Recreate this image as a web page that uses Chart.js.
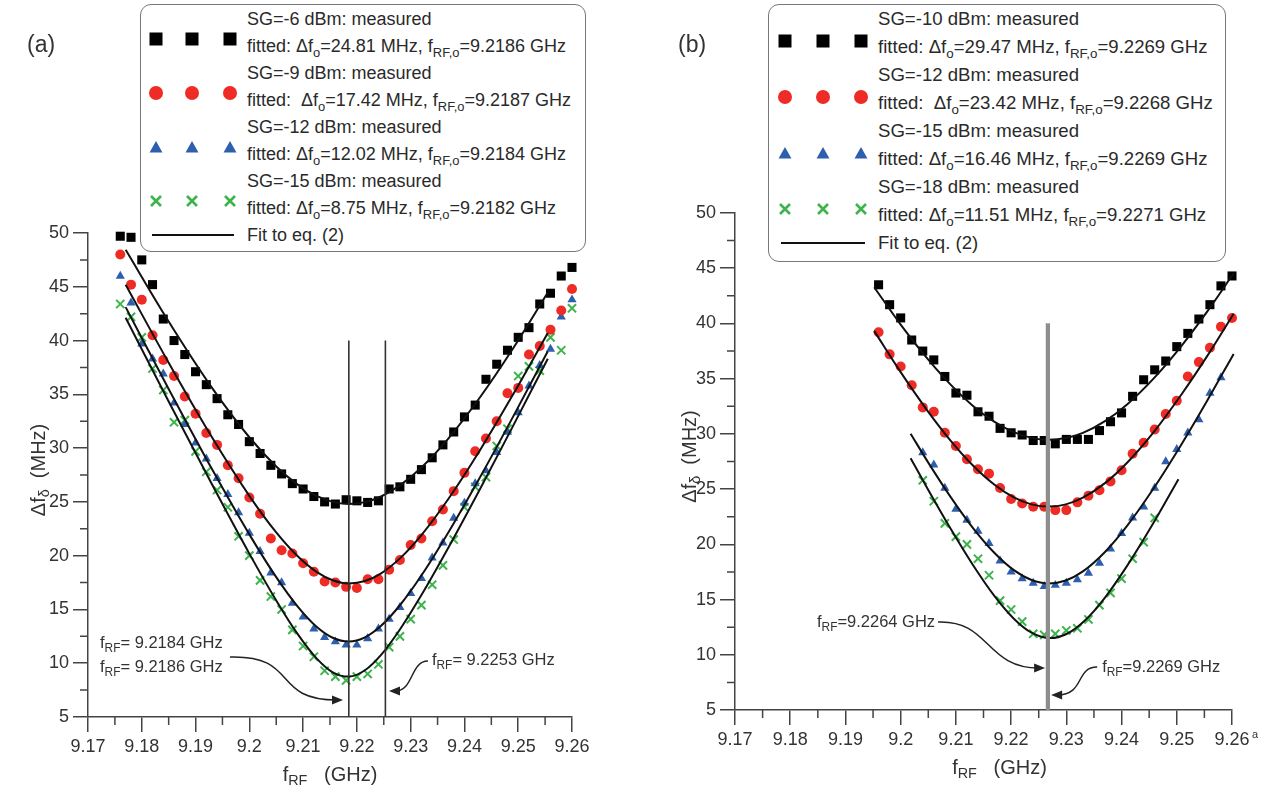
<!DOCTYPE html>
<html><head><meta charset="utf-8">
<script src="https://cdn.jsdelivr.net/npm/chart.js@4.4.1/dist/chart.umd.min.js"></script>
<style>
html,body{margin:0;padding:0;background:#fff;}
body{width:1278px;height:792px;overflow:hidden;position:relative;font-family:"Liberation Sans",Arial,Helvetica,sans-serif;}
canvas{position:absolute;top:0;}
.legend{position:absolute;border:1.5px solid #76767c;border-radius:11px;background:#fff;box-sizing:border-box;}
.lt{position:absolute;white-space:nowrap;line-height:20px;color:#2a2a2a;transform:translateY(-50%);}
#legA .lt{font-size:18px;}
#legB .lt{font-size:18.6px;}
.lt sub{font-size:72%;vertical-align:-0.35em;line-height:0;}
.mk{position:absolute;width:16px;height:16px;}
.panel{position:absolute;font-size:23px;color:#333;}
</style></head>
<body>
<canvas id="cA" width="640" height="792" style="left:0px"></canvas>
<canvas id="cB" width="638" height="792" style="left:640px"></canvas>
<div class="panel" style="left:27px;top:31px">(a)</div>
<div class="panel" style="left:678px;top:31px">(b)</div>
<div id="legA" class="legend" style="left:140px;top:4px;width:446px;height:248px"></div>
<div id="legB" class="legend" style="left:768px;top:4px;width:458px;height:258px"></div>
<script>
// ---------------- axis ticks ----------------
const xTickValues = [9.17, 9.18, 9.19, 9.2, 9.21, 9.22, 9.23, 9.24, 9.25, 9.26];
const xTickLabels = ['9.17', '9.18', '9.19', '9.2', '9.21', '9.22', '9.23', '9.24', '9.25', '9.26'];
const xMinorTicks = [9.175, 9.185, 9.195, 9.205, 9.215, 9.225, 9.235, 9.245, 9.255];
const yTickValues = [5, 10, 15, 20, 25, 30, 35, 40, 45, 50];
const yTickLabels = ['5', '10', '15', '20', '25', '30', '35', '40', '45', '50'];
const yMinorTicks = [7.5, 12.5, 17.5, 22.5, 27.5, 32.5, 37.5, 42.5, 47.5];

// ---------------- panel (a) ----------------
const freqA = [9.176, 9.178, 9.180, 9.182, 9.184, 9.186, 9.188, 9.190, 9.192, 9.194, 9.196, 9.198, 9.200, 9.202, 9.204,
  9.206, 9.208, 9.210, 9.212, 9.214, 9.216, 9.218, 9.220, 9.222, 9.224, 9.226, 9.228, 9.230, 9.232, 9.234, 9.236, 9.238,
  9.240, 9.242, 9.244, 9.246, 9.248, 9.250, 9.252, 9.254, 9.256, 9.258, 9.260];
const sgM6 = [49.7, 49.6, 47.5, 45.2, 42.0, 40.0, 38.7, 37.1, 35.9, 34.6, 33.1, 32.2, 30.6, 29.5, 28.4,
  27.6, 26.7, 26.2, 25.5, 25.0, 24.8, 25.2, 25.1, 24.95, 25.1, 26.2, 26.4, 27.1, 28.0, 29.1, 30.3, 31.5,
  32.9, 34.0, 36.4, 37.8, 39.1, 40.3, 41.2, 43.4, 44.4, 46.0, 46.8];
const sgM9 = [48.0, 45.2, 43.8, 40.5, 38.2, 36.7, 34.8, 33.2, 31.4, 30.3, 28.4, 27.2, 25.4, 23.9, 21.6,
  20.5, 20.2, 19.3, 18.5, 17.6, 17.5, 17.1, 17.0, 17.8, 17.8, 18.7, 19.6, 21.0, 21.6, 23.2, 24.3, 26.0,
  27.7, 29.7, 30.9, 32.5, 35.1, 35.6, 38.7, 39.5, 41.0, 42.8, 44.8];
const sgM12A = [46.0, 43.5, 39.7, 38.3, 36.9, 34.2, 32.2, 30.5, 29.0, 27.2, 25.7, 24.0, 22.1, 20.4, 18.4,
  17.5, 15.6, 14.3, 13.2, 12.4, 12.0, 11.7, 11.7, 12.3, 13.2, 14.1, 15.2, 16.5, 17.9, 19.8, 21.2, 23.5,
  24.9, 26.7, 27.9, 29.6, 31.5, 33.3, 35.8, 37.7, 39.2, 42.2, 43.8];
const sgM15A = [43.4, 42.2, 40.3, 37.4, 35.4, 32.4, 32.6, 29.7, 27.8, 26.1, 24.5, 21.8, 20.0, 17.7, 16.2,
  15.0, 13.1, 11.6, 10.6, 9.3, 8.75, 8.4, 8.75, 9.0, 9.9, 11.5, 12.5, 14.1, 15.4, 17.3, 19.1, 21.5,
  24.5, 26.4, 27.3, 30.2, 31.8, 36.7, 37.6, 37.2, 40.3, 39.1, 43.0];
const fitFreqA = [9.177, 9.185, 9.193, 9.200, 9.205, 9.209, 9.2125, 9.2155, 9.2185, 9.2215, 9.2245, 9.228, 9.232, 9.237, 9.243, 9.249, 9.2555];
const fitM6 = [48.44, 41.77, 35.65, 31.01, 28.29, 26.60, 25.55, 25.00, 24.81, 24.98, 25.50, 26.53, 28.20, 30.89, 34.80, 39.24, 44.46];
const fitM9 = [45.19, 37.94, 31.05, 25.56, 22.16, 19.94, 18.49, 17.71, 17.42, 17.64, 18.36, 19.75, 21.92, 25.27, 29.90, 34.95, 40.71];
const fitM12A = [43.11, 35.50, 28.10, 21.98, 18.00, 15.26, 13.39, 12.37, 12.02, 12.41, 13.48, 15.39, 18.15, 22.15, 27.38, 32.88, 39.00];
const fitM15A = [42.12, 34.33, 26.68, 20.19, 15.84, 12.70, 10.45, 9.16, 8.76, 9.35, 10.78, 13.14, 16.34, 20.74, 26.30, 32.02, 38.31];
const markerFreqA = [9.2185, 9.2253];
const markerSpan = [5, 40];
const legSgA = ['-6', '-9', '-12', '-15'];
const legDfA = ['24.81', '17.42', '12.02', '8.75'];
const legF0A = ['9.2186', '9.2187', '9.2184', '9.2182'];

// ---------------- panel (b) ----------------
const freqB = [9.196, 9.198, 9.200, 9.202, 9.204, 9.206, 9.208, 9.210, 9.212, 9.214, 9.216, 9.218, 9.220, 9.222, 9.224,
  9.226, 9.228, 9.230, 9.232, 9.234, 9.236, 9.238, 9.240, 9.242, 9.244, 9.246, 9.248, 9.250, 9.252, 9.254, 9.256, 9.258, 9.260];
const sgM10 = [43.5, 41.7, 40.5, 38.5, 37.5, 36.7, 35.2, 33.7, 33.5, 32.0, 31.6, 30.5, 30.1, 29.9, 29.4,
  29.4, 29.1, 29.5, 29.5, 29.5, 30.3, 31.1, 31.9, 33.4, 34.9, 35.8, 36.6, 37.9, 39.1, 40.4, 41.7, 43.4, 44.3];
const sgM12B = [39.2, 37.2, 36.1, 34.4, 32.4, 32.0, 30.1, 28.9, 27.7, 26.8, 26.4, 25.1, 24.1, 23.7, 23.4,
  23.4, 23.1, 23.1, 23.8, 24.4, 24.9, 25.7, 26.7, 28.2, 29.2, 30.4, 31.8, 33.0, 35.2, 36.5, 37.8, 39.7, 40.5];
const freqB15 = [9.204, 9.206, 9.208, 9.210, 9.212, 9.214, 9.216, 9.218, 9.220, 9.222, 9.224, 9.226, 9.228, 9.230,
  9.232, 9.234, 9.236, 9.238, 9.240, 9.242, 9.244, 9.246, 9.248, 9.250, 9.252, 9.254, 9.256, 9.258];
const sgM15B = [28.3, 27.2, 25.1, 23.2, 22.2, 21.2, 20.1, 18.5, 17.5, 16.9, 16.5, 16.2, 16.3, 16.5,
  16.8, 17.4, 18.3, 19.6, 21.0, 22.4, 23.4, 25.1, 27.5, 28.6, 30.1, 31.3, 33.7, 35.1];
const freqB18 = [9.204, 9.206, 9.208, 9.210, 9.212, 9.214, 9.216, 9.218, 9.220, 9.222, 9.224, 9.226, 9.228, 9.230,
  9.232, 9.234, 9.236, 9.238, 9.240, 9.242, 9.244, 9.246];
const sgM18B = [25.8, 23.9, 21.9, 20.7, 20.0, 18.7, 17.2, 14.9, 14.1, 13.0, 11.9, 11.8, 11.9, 12.2,
  12.4, 13.2, 14.5, 15.6, 16.9, 18.7, 20.2, 22.4];
const fitFreqB = [9.1952, 9.200, 9.205, 9.209, 9.213, 9.217, 9.2205, 9.2237, 9.2268, 9.2299, 9.233, 9.237, 9.241, 9.246, 9.251, 9.2555, 9.2603];
const fitM10 = [43.28, 39.90, 36.72, 34.48, 32.58, 31.09, 30.16, 29.64, 29.47, 29.62, 30.09, 31.15, 32.67, 35.12, 38.07, 41.07, 44.54];
const fitM12B = [39.33, 35.59, 32.00, 29.42, 27.18, 25.39, 24.25, 23.62, 23.42, 23.62, 24.23, 25.54, 27.39, 30.28, 33.68, 37.04, 40.88];
const fitFreqB15 = [9.2018, 9.205, 9.209, 9.213, 9.217, 9.2205, 9.2237, 9.2268, 9.2299, 9.233, 9.237, 9.241, 9.246, 9.251, 9.2555, 9.2603];
const fitM15B = [30.02, 27.40, 24.32, 21.54, 19.21, 17.66, 16.77, 16.46, 16.73, 17.55, 19.31, 21.67, 25.21, 29.18, 33.00, 37.24];
const fitFreqB18 = [9.2018, 9.205, 9.209, 9.213, 9.217, 9.2205, 9.2237, 9.2271, 9.2303, 9.2335, 9.237, 9.241, 9.2455, 9.2503];
const fitM18B = [27.80, 24.92, 21.45, 18.20, 15.31, 13.27, 12.00, 11.51, 11.95, 13.17, 15.18, 18.05, 21.70, 25.90];
const markerFreqB = [9.2264, 9.2269];
const legSgB = ['-10', '-12', '-15', '-18'];
const legDfB = ['29.47', '23.42', '16.46', '11.51'];
const legF0B = ['9.2269', '9.2268', '9.2269', '9.2271'];

// ---------------- styles ----------------
const FF = '"Liberation Sans", Arial, sans-serif';
const INK = '#333333';
const styles = [
  {pointStyle: 'rect', radius: 6.4, color: '#000000'},
  {pointStyle: 'circle', radius: 5.0, color: '#ee2b24'},
  {pointStyle: 'triangle', radius: 5.3, color: '#2d5fae'},
  {pointStyle: 'crossRot', radius: 5.8, color: '#3cb44b'}
];
const pts = (xs, ys) => xs.map((x, i) => ({x: x, y: ys[i]}));
function measured(xs, ys, st) {
  return {data: pts(xs, ys), showLine: false, pointStyle: st.pointStyle, pointRadius: st.radius,
    backgroundColor: st.color, borderColor: st.color, borderWidth: st.pointStyle === 'crossRot' ? 2 : 0,
    clip: false, order: 2};
}
function fitLine(xs, ys) {
  return {data: pts(xs, ys), showLine: true, pointRadius: 0, borderColor: '#111', borderWidth: 2,
    cubicInterpolationMode: 'monotone', fill: false, clip: false, order: 1};
}
function vLine(xv, color, width) {
  return {data: [{x: xv, y: markerSpan[0]}, {x: xv, y: markerSpan[1]}], showLine: true, pointRadius: 0,
    borderColor: color, borderWidth: width, fill: false, order: 0};
}

function drawRich(ctx, parts, x, y, size, align) {
  let w = 0;
  for (const p of parts) { ctx.font = (p[1] ? size * 0.72 : size) + 'px ' + FF; w += ctx.measureText(p[0]).width; }
  let cx = align === 'right' ? x - w : (align === 'center' ? x - w / 2 : x);
  ctx.textAlign = 'left'; ctx.textBaseline = 'middle';
  for (const p of parts) {
    ctx.font = (p[1] ? size * 0.72 : size) + 'px ' + FF;
    ctx.fillText(p[0], cx, p[1] ? y + size * 0.32 : y);
    cx += ctx.measureText(p[0]).width;
  }
}

const deco = {
  id: 'deco',
  afterDatasetsDraw(chart, args, o) {
    const ctx = chart.ctx, xs = chart.scales.x, ys = chart.scales.y, ca = chart.chartArea;
    ctx.save();
    ctx.strokeStyle = '#444'; ctx.lineWidth = 1.5;
    ctx.beginPath();
    for (const v of xMinorTicks) { const p = xs.getPixelForValue(v); ctx.moveTo(p, ca.bottom); ctx.lineTo(p, ca.bottom + 8); }
    for (const v of yMinorTicks) { const p = ys.getPixelForValue(v); ctx.moveTo(ca.left - 8, p); ctx.lineTo(ca.left, p); }
    ctx.stroke();
    // arrows
    ctx.strokeStyle = '#222'; ctx.fillStyle = '#222'; ctx.lineWidth = 1.5;
    for (const a of o.arrows) {
      const P = a.map(q => [xs.getPixelForValue(q[0]), ys.getPixelForValue(q[1])]);
      const dir = Math.sign(P[3][0] - P[2][0]);
      ctx.beginPath(); ctx.moveTo(P[0][0], P[0][1]);
      ctx.bezierCurveTo(P[1][0], P[1][1], P[2][0], P[2][1], P[3][0] - dir * 6, P[3][1]);
      ctx.stroke();
      ctx.beginPath();
      ctx.moveTo(P[3][0], P[3][1]);
      ctx.lineTo(P[3][0] - dir * 11, P[3][1] - 4.5);
      ctx.lineTo(P[3][0] - dir * 11, P[3][1] + 4.5);
      ctx.closePath(); ctx.fill();
    }
    // annotation texts
    ctx.fillStyle = INK;
    for (const t of o.texts) drawRich(ctx, t.parts, xs.getPixelForValue(t.x), ys.getPixelForValue(t.y), 16.5, t.align);
    // axis titles
    ctx.save();
    ctx.translate(ca.left - o.yTitleOffset, (ca.top + ca.bottom) / 2 - 5);
    ctx.rotate(-Math.PI / 2);
    drawRich(ctx, [['\u0394f', 0], ['\u03b4', 1], ['  (MHz)', 0]], 0, 0, 20, 'center');
    ctx.restore();
    drawRich(ctx, [['f', 0], ['RF', 1], ['   (GHz)', 0]], (ca.left + ca.right) / 2 + o.xTitleDx, ca.bottom + 58, 20, 'center');
    if (o.supA) {
      ctx.font = '11px ' + FF; ctx.textAlign = 'left'; ctx.textBaseline = 'middle';
      ctx.fillText('a', xs.getPixelForValue(9.26) + 20, ca.bottom + 25);
    }
    ctx.restore();
  }
};

function axisOpts(which) {
  const isX = which === 'x';
  return {
    type: 'linear',
    min: isX ? 9.17 : 5, max: isX ? 9.26 : 50,
    afterBuildTicks: s => { s.ticks = (isX ? xTickValues : yTickValues).map(v => ({value: v})); },
    afterFit: s => { if (isX) s.height = 50; else s.width = 50; },
    ticks: {callback: (v, i) => (isX ? xTickLabels : yTickLabels)[i], font: {size: 18, family: FF}, color: INK,
      padding: 4, maxRotation: 0, minRotation: 0, autoSkip: false},
    grid: {drawOnChartArea: false, drawTicks: true, tickLength: 15, color: '#444', lineWidth: 1.5},
    border: {display: true, color: '#444', width: 1.5}
  };
}

function makeChart(id, datasets, pad, decoOpts) {
  return new Chart(document.getElementById(id), {
    type: 'scatter',
    data: {datasets: datasets},
    options: {
      responsive: false, animation: false, devicePixelRatio: 1, events: [],
      layout: {padding: pad},
      plugins: {legend: {display: false}, tooltip: {enabled: false}, deco: decoOpts},
      scales: {x: axisOpts('x'), y: axisOpts('y')}
    },
    plugins: [deco]
  });
}

const R = (t) => [['f', 0], ['RF', 1], [t, 0]];

makeChart('cA', [
  vLine(markerFreqA[0], '#333', 1.6), vLine(markerFreqA[1], '#333', 1.6),
  fitLine(fitFreqA, fitM6), fitLine(fitFreqA, fitM9), fitLine(fitFreqA, fitM12A), fitLine(fitFreqA, fitM15A),
  measured(freqA, sgM6, styles[0]), measured(freqA, sgM9, styles[1]),
  measured(freqA, sgM12A, styles[2]), measured(freqA, sgM15A, styles[3])
], {left: 38, right: 68, top: 233, bottom: 25}, {
  yTitleOffset: 49, xTitleDx: 0, supA: false,
  texts: [
    {x: 9.17223, y: 11.88, parts: R('= 9.2184 GHz'), align: 'left'},
    {x: 9.17223, y: 9.65, parts: R('= 9.2186 GHz'), align: 'left'},
    {x: 9.23396, y: 10.30, parts: R('= 9.2253 GHz'), align: 'left'}
  ],
  arrows: [
    [[9.19640, 10.58], [9.20942, 10.76], [9.20384, 6.58], [9.21742, 6.58]],
    [[9.23322, 10.20], [9.22987, 10.20], [9.23062, 7.42], [9.22597, 7.42]]
  ]
});

makeChart('cB', [
  vLine((markerFreqB[0] + markerFreqB[1]) / 2, '#8e8e8e', 4), vLine(markerFreqB[0], '#555', 1), vLine(markerFreqB[1], '#555', 1),
  fitLine(fitFreqB, fitM10), fitLine(fitFreqB, fitM12B), fitLine(fitFreqB15, fitM15B), fitLine(fitFreqB18, fitM18B),
  measured(freqB, sgM10, styles[0]), measured(freqB, sgM12B, styles[1]),
  measured(freqB15, sgM15B, styles[2]), measured(freqB18, sgM18B, styles[3])
], {left: 45, right: 46, top: 213, bottom: 32}, {
  yTitleOffset: 45, xTitleDx: 16, supA: true,
  texts: [
    {x: 9.20623, y: 12.97, parts: R('=9.2264 GHz'), align: 'right'},
    {x: 9.23649, y: 8.89, parts: R('=9.2269 GHz'), align: 'left'}
  ],
  arrows: [
    [[9.20678, 12.97], [9.21620, 13.15], [9.21529, 8.80], [9.22616, 8.80]],
    [[9.23558, 8.89], [9.23159, 8.89], [9.23341, 6.36], [9.22725, 6.36]]
  ]
});

// ---------------- legends (HTML) ----------------
function markerSVG(kind, color) {
  let inner = '';
  if (kind === 'rect') inner = '<rect x="1.5" y="1.5" width="13" height="13" fill="' + color + '"/>';
  else if (kind === 'circle') inner = '<circle cx="8" cy="8" r="7" fill="' + color + '"/>';
  else if (kind === 'triangle') inner = '<polygon points="8,2 14.5,13.5 1.5,13.5" fill="' + color + '"/>';
  else inner = '<path d="M3,3 L13,13 M13,3 L3,13" stroke="' + color + '" stroke-width="2.6"/>';
  return '<svg width="16" height="16" viewBox="0 0 16 16">' + inner + '</svg>';
}
function buildLegend(el, sg, df, f0, g) {
  let h = '';
  for (let i = 0; i < sg.length; i++) {
    const y1 = g.y0 + i * 2 * g.dy, y2 = y1 + g.dy;
    h += '<div class="lt" style="left:' + g.tx + 'px;top:' + y1 + 'px">SG=' + sg[i] + ' dBm: measured</div>';
    h += '<div class="lt" style="left:' + g.tx + 'px;top:' + y2 + 'px">fitted: ' + (i === 1 ? '&nbsp;' : '') +
      '\u0394f<sub>o</sub>=' + df[i] + ' MHz, f<sub>RF,o</sub>=' + f0[i] + ' GHz</div>';
    for (const mx of g.mx) h += '<div class="mk" style="left:' + (mx - 8) + 'px;top:' + (y2 - g.mo - 8) + 'px">' +
      markerSVG(styles[i].pointStyle, styles[i].color) + '</div>';
  }
  const yf = g.y0 + 8 * g.dy;
  h += '<div style="position:absolute;left:' + (g.mx[0] - 4) + 'px;top:' + (yf - 1) + 'px;width:' + (g.mx[2] - g.mx[0] + 8) + 'px;height:2px;background:#111"></div>';
  h += '<div class="lt" style="left:' + g.tx + 'px;top:' + yf + 'px">Fit to eq. (2)</div>';
  el.innerHTML = h;
}
buildLegend(document.getElementById('legA'), legSgA, legDfA, legF0A, {tx: 106, y0: 14, dy: 27, mx: [15, 51, 89], mo: 7});
buildLegend(document.getElementById('legB'), legSgB, legDfB, legF0B, {tx: 109, y0: 14, dy: 28, mx: [16, 54, 92], mo: 6});
</script>
</body></html>
